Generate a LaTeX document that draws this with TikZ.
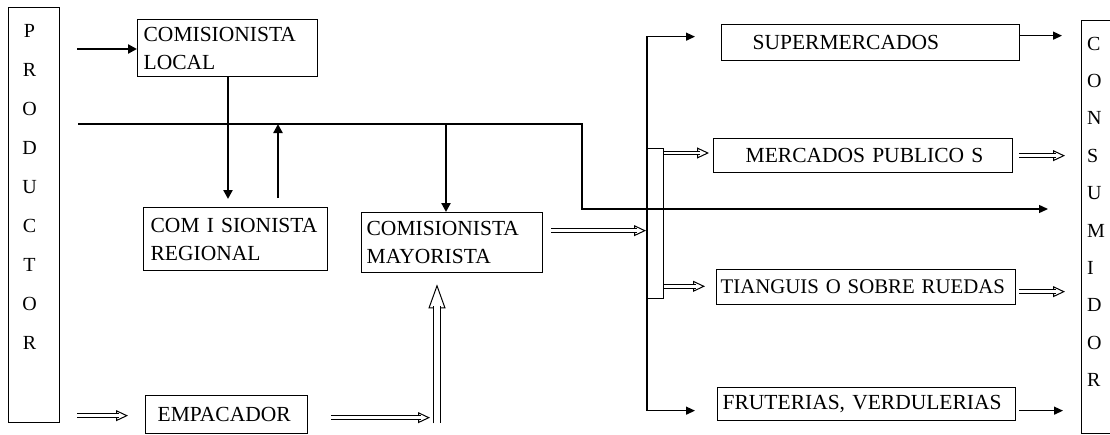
\documentclass[tikz,border=0pt]{standalone}
\usepackage{fontspec}
\setmainfont{Liberation Serif}
\usetikzlibrary{arrows.meta,calc}
% hollow (outlined) arrow: #1 shaft gap, #2 tip length, #3 tip width, #4 start, #5 end
\newcommand\hollowarr[5]{%
  \draw[line width=1pt, -{Triangle[length=#2,width=#3,fill=white]}] ($(#5)!#2!(#4)$) -- (#5);
  \draw[line width=1pt, double, double distance=#1, shorten >=#2-2.5pt] (#4) -- (#5);}
\begin{document}
\begin{tikzpicture}[x=1pt,y=-1pt,
  box/.style={draw, line width=1.3pt, anchor=north west, inner ysep=0pt, align=left, font=\fontsize{21.5}{28}\selectfont},
  letter/.style={font=\fontsize{20}{20}\selectfont, inner sep=0pt},
  thinarr/.style={line width=1.3pt, -{Triangle[length=9pt,width=8pt]}},
  bothtip/.style={line width=1.3pt, {Triangle[length=9pt,width=8pt]}-{Triangle[length=9pt,width=8pt]}},
  thickarr/.style={line width=2.8pt, -{Triangle[length=9pt,width=9pt]}}]
\fill[white] (0,0) rectangle (1110,434);
\useasboundingbox (0,0) rectangle (1110,434);

% boxes
\node[box, minimum width=51pt, minimum height=415pt] (prod) at (8,7) {};
\foreach \l [count=\i from 0] in {P,R,O,D,U,C,T,O,R}
  \node[letter, anchor=base] (p\i) at (29.5, 37+\i*39.1) {\l};
\node[box, minimum width=40pt, minimum height=413pt] (cons) at (1081,20) {};
\foreach \l [count=\i from 0] in {C,O,N,S,U,M,I,D,O,R}
  \node[letter, anchor=base west] (c\i) at (1087, 50+\i*37.4) {\l};

\node[box, minimum width=180pt, minimum height=57pt, inner xsep=6pt, text width=168pt] (local) at (137,19) {\mbox{COMISIONISTA}\\LOCAL};
\node[box, minimum width=184pt, minimum height=63pt, inner xsep=7pt, text width=170pt] (regional) at (143,207) {\mbox{COM I SIONISTA}\\REGIONAL};
\node[box, minimum width=181pt, minimum height=60pt, inner xsep=5pt, text width=171pt] (mayor) at (361,212) {\mbox{COMISIONISTA}\\MAYORISTA};
\node[box, minimum width=162pt, minimum height=38pt, inner xsep=12pt, text width=138pt] (empac) at (145,395) {\mbox{EMPACADOR}};
\node[box, minimum width=298pt, minimum height=36pt, inner xsep=31pt, text width=236pt] (super) at (721,24) {\mbox{SUPERMERCADOS}};
\node[box, minimum width=299pt, minimum height=34pt, inner xsep=32pt, text width=235pt] (merc) at (713,138) {\mbox{MERCADOS PUBLICO S}};
\node[box, minimum width=299pt, minimum height=35pt, inner xsep=4pt, text width=291pt, font=\fontsize{20.8}{28}\selectfont] (tiang) at (716,269) {\mbox{TIANGUIS O SOBRE RUEDAS}};
\node[box, minimum width=298pt, minimum height=33pt, inner xsep=5pt, text width=288pt] (frut) at (717,387) {\mbox{FRUTERIAS, VERDULERIAS}};
\node[box, minimum width=16pt, minimum height=150pt, inner sep=0pt] (bus) at (647,148) {};

% single-line connectors
\coordinate (pl) at (77,49);
\draw[thickarr] (pl) -- (pl -| local.west);
\draw[thickarr] ([xshift=91pt]local.south west) -- ([xshift=85pt,yshift=8pt]regional.north west);

\coordinate (hl) at (78,124);
\coordinate (k) at (582,209);
\draw[thinarr] (hl) -- (hl -| k) -- (k) -- ([xshift=-33pt]k -| cons.west);

\coordinate (ru) at ($(regional.north west)+(135,-9)$);
\draw[thickarr] (ru) -- (ru |- hl);
\coordinate (mt) at ($(mayor.north west)+(85,0)$);
\draw[thickarr] (mt |- hl) -- (mt);

\coordinate (st) at ($(super.west)+(-26,-6)$);
\coordinate (ft) at ($(frut.west)+(-22,6.5)$);
\draw[bothtip] (ft) -- (ft -| bus.west) -- (st -| bus.west) -- (st);

\coordinate (s2) at ($(super.east)+(0,-7)$);
\draw[thinarr, shorten >=19pt] (s2) -- (s2 -| cons.west);
\coordinate (f2) at ($(frut.east)+(3,6.5)$);
\draw[thinarr, shorten >=18pt] (f2) -- (f2 -| cons.west);

% hollow double arrows
\coordinate (ma) at ($(mayor.east)+(8,-12)$);
\coordinate (mb) at ($(ma -| bus.west)+(-1,0)$);
\hollowarr{2.6pt}{12pt}{11pt}{ma}{mb}

\coordinate (b1) at ($(bus.north east)+(0,5)$);
\coordinate (b1e) at ($(b1 -| merc.west)+(-4,0)$);
\hollowarr{2.6pt}{12pt}{11pt}{b1}{b1e}
\coordinate (b2) at ($(bus.south east)+(0,-13)$);
\coordinate (b2e) at ($(b2 -| tiang.west)+(-11,0)$);
\hollowarr{2.6pt}{12pt}{11pt}{b2}{b2e}

\coordinate (m1) at ($(merc.east)+(6,0)$);
\coordinate (m2) at ($(merc.east -| cons.west)+(-16,0)$);
\hollowarr{2.6pt}{12pt}{11pt}{m1}{m2}
\coordinate (t1) at ($(tiang.east)+(3,4.5)$);
\coordinate (t2) at ($(t1 -| cons.west)+(-16,0)$);
\hollowarr{2.6pt}{12pt}{11pt}{t1}{t2}

\coordinate (pe) at ($(prod.east |- empac.west)+(17,1)$);
\coordinate (pf) at ($(pe -| empac.west)+(-17,0)$);
\hollowarr{2.6pt}{12pt}{11pt}{pe}{pf}

\coordinate (vb) at ($(mayor.south west)+(76,150)$);
\coordinate (vt) at ($(mayor.south west)+(76,11)$);
\coordinate (ee) at ($(empac.east)+(23,3)$);
\coordinate (ef) at ($(ee -| vb)+(-7,0)$);
\hollowarr{2.6pt}{12pt}{11pt}{ee}{ef}
\hollowarr{6pt}{24pt}{17pt}{vb}{vt}
\end{tikzpicture}
\end{document}
